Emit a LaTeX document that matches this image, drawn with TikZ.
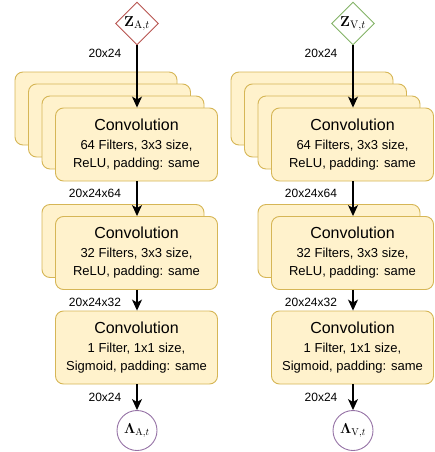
\documentclass[tikz,border=0pt]{standalone}
\usepackage[no-math]{fontspec}
\setmainfont{Liberation Sans}
\usepackage{amsmath,bm}
\usetikzlibrary{shapes.geometric,arrows.meta}
\definecolor{convfill}{HTML}{FFF2CC}
\definecolor{convdraw}{HTML}{D6B656}
\definecolor{redd}{HTML}{B85450}
\definecolor{greend}{HTML}{82B366}
\definecolor{purpled}{HTML}{9673A6}
\tikzset{
  conv/.style={draw=convdraw, fill=convfill, line width=0.9pt, rounded corners=8pt,
    minimum width=162pt, minimum height=73pt, inner sep=0pt, align=center,
    font=\fontsize{13}{18}\selectfont},
  inp/.style={draw, shape=diamond, aspect=1, fill=white, line width=0.9pt,
    minimum size=43pt, inner sep=0pt, font=\fontsize{15}{17}\selectfont},
  outp/.style={draw=purpled, circle, fill=white, line width=0.9pt,
    minimum size=40pt, inner sep=0pt, font=\fontsize{14}{16}\selectfont},
  dimlbl/.style={font=\fontsize{12}{14}\selectfont, inner sep=0pt},
  flow/.style={draw=black, line width=1.1pt, -{Stealth[length=11pt,width=10pt,inset=3pt]}},
}
\newcommand{\convtxt}[2]{{\fontsize{16}{20}\selectfont Convolution}\\[1pt]#1\\#2}
\begin{document}
\begin{tikzpicture}[x=1pt,y=-1pt]
\useasboundingbox (0,0) rectangle (434,452);
\foreach \ox/\nm/\col/\sub in {0/A/redd/A, 216/V/greend/V}{
  \begin{scope}[xshift=\ox pt]
  % stack 1
  \node[conv] (\nm b13) at (96,108.5) {};
  \node[conv] (\nm b12) at (109.5,120.5) {};
  \node[conv] (\nm b11) at (123,132.5) {};
  \node[conv] (\nm c1) at (136.5,144.5) {\convtxt{64 Filters, 3x3 size,}{ReLU, padding: same}};
  % stack 2
  \node[conv] (\nm b21) at (123,241) {};
  \node[conv] (\nm c2) at (136.5,253) {\convtxt{32 Filters, 3x3 size,}{ReLU, padding: same}};
  % layer 3
  \node[conv] (\nm c3) at (136.5,347.5) {\convtxt{1 Filter, 1x1 size,}{Sigmoid, padding: same}};
  % input / output
  \node[inp, draw=\col] (\nm in) at (137,23.5) {$\mathbf{Z}_{\mathrm{\sub},t}$};
  \node[outp] (\nm out) at (137,430.5) {$\bm{\Lambda}_{\mathrm{\sub},t}$};
  % arrows
  \draw[flow] (\nm in.south) -- (\nm in.south |- \nm c1.north);
  \draw[flow] (\nm c1.south -| \nm in.south) -- (\nm in.south |- \nm c2.north);
  \draw[flow] (\nm c2.south -| \nm in.south) -- (\nm in.south |- \nm c3.north);
  \draw[flow] (\nm c3.south -| \nm in.south) -- (\nm out.north);
  % labels
  \node[dimlbl] (\nm l1) at (105,53) {20x24};
  \node[dimlbl] (\nm l2) at (95,193) {20x24x64};
  \node[dimlbl] (\nm l3) at (95,302) {20x24x32};
  \node[dimlbl] (\nm l4) at (105,397) {20x24};
  \end{scope}
}
\end{tikzpicture}
\end{document}
